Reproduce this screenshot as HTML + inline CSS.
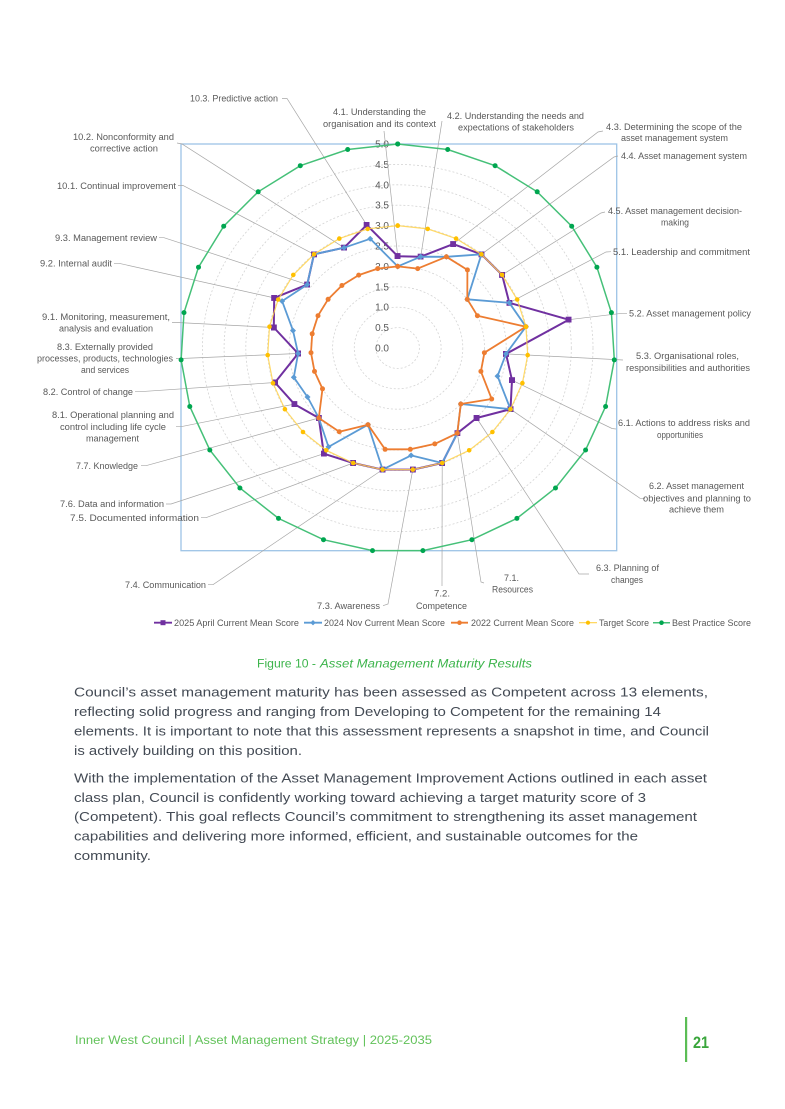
<!DOCTYPE html>
<html><head><meta charset="utf-8"><style>
html,body{margin:0;padding:0;background:#fff;}
svg{display:block;}
text{font-family:"Liberation Sans",Arial,sans-serif;}
</style></head><body>
<svg width="785" height="1109" viewBox="0 0 785 1109" xmlns="http://www.w3.org/2000/svg">
<defs>
<marker id="mp" markerWidth="6" markerHeight="6" refX="3" refY="3" markerUnits="userSpaceOnUse"><rect width="6" height="6" fill="#7030a0"/></marker>
<marker id="mb" markerWidth="6" markerHeight="6" refX="3" refY="3" markerUnits="userSpaceOnUse"><path d="M3,0 L6,3 L3,6 L0,3Z" fill="#5b9bd5"/></marker>
<marker id="mo" markerWidth="6" markerHeight="6" refX="3" refY="3" markerUnits="userSpaceOnUse"><circle cx="3" cy="3" r="2.5" fill="#ed7d31"/></marker>
<marker id="my" markerWidth="6" markerHeight="6" refX="3" refY="3" markerUnits="userSpaceOnUse"><circle cx="3" cy="3" r="2.3" fill="#ffc000"/></marker>
<marker id="mg" markerWidth="6" markerHeight="6" refX="3" refY="3" markerUnits="userSpaceOnUse"><circle cx="3" cy="3" r="2.5" fill="#00a650"/></marker>
</defs>
<rect width="785" height="1109" fill="#fff"/>

<!-- plot area border -->
<rect x="181" y="144" width="435.7" height="406.7" fill="none" stroke="#9dc3e6" stroke-width="1.3"/>

<!-- grid rings -->
<g fill="none" stroke="#d4d4d4" stroke-width="0.8" stroke-dasharray="2 2">
<ellipse cx="397.7" cy="348" rx="21.7" ry="20.4"/>
<ellipse cx="397.7" cy="348" rx="43.4" ry="40.8"/>
<ellipse cx="397.7" cy="348" rx="65.1" ry="61.2"/>
<ellipse cx="397.7" cy="348" rx="86.8" ry="81.6"/>
<ellipse cx="397.7" cy="348" rx="108.5" ry="102"/>
<ellipse cx="397.7" cy="348" rx="130.2" ry="122.4"/>
<ellipse cx="397.7" cy="348" rx="151.9" ry="142.8"/>
<ellipse cx="397.7" cy="348" rx="173.6" ry="163.2"/>
<ellipse cx="397.7" cy="348" rx="195.3" ry="183.6"/>
</g>

<!-- tick labels -->
<g font-size="10" fill="#595959" text-anchor="end">
<text x="389" y="351.5">0.0</text>
<text x="389" y="331.1">0.5</text>
<text x="389" y="310.7">1.0</text>
<text x="389" y="290.3">1.5</text>
<text x="389" y="269.9">2.0</text>
<text x="389" y="249.5">2.5</text>
<text x="389" y="229.1">3.0</text>
<text x="389" y="208.7">3.5</text>
<text x="389" y="188.3">4.0</text>
<text x="389" y="167.9">4.5</text>
<text x="389" y="147.5">5.0</text>
</g>

<!-- leader lines -->
<g fill="none" stroke="#a6a6a6" stroke-width="0.7">
<polyline points="282,98.5 287,98.5 366.7,224.9"/>
<polyline points="384,131 397.7,256.2"/>
<polyline points="442,121 420.7,256.7"/>
<polyline points="603,131 598,132 453.2,244.1"/>
<polyline points="618,156 614,157 481.4,254.3"/>
<polyline points="605,212 601,213 502.1,274.9"/>
<polyline points="611,251.7 606,252 509.3,302.8"/>
<polyline points="627,313.3 622,313.3 568.7,319.7"/>
<polyline points="623,360 506,353.9"/>
<polyline points="616,429 612,428.5 512,380.2"/>
<polyline points="645,498.3 640,498.3 510.5,409.2"/>
<polyline points="589,574 579,574 476.6,418"/>
<polyline points="484,583 481,582 457.3,433.2"/>
<polyline points="442,586 442.2,463"/>
<polyline points="383,605.7 388,604 412.8,469.6"/>
<polyline points="208,584.7 213,584.7 382.6,469.6"/>
<polyline points="201,517.7 206,517.7 353.2,463"/>
<polyline points="166,504 171,504 323.8,453.7"/>
<polyline points="141,465.7 146,465.7 318.8,418"/>
<polyline points="176,426.7 181,426.7 294.3,404.1"/>
<polyline points="135,391.7 140,391.7 275,382.5"/>
<polyline points="176,358.5 181,358.5 298.1,353.5"/>
<polyline points="172,322.5 177,322.5 273.8,327.5"/>
<polyline points="114,263.3 119,263.3 274.2,297.9"/>
<polyline points="159,237.7 164,237.7 307.2,284.6"/>
<polyline points="178,185.5 183,185.5 314,254.3"/>
<polyline points="177,143 182,144 344.1,247.7"/>
</g>

<!-- series -->
<polygon fill="none" stroke="#7030a0" stroke-width="2" stroke-linejoin="round" marker-start="url(#mp)" marker-mid="url(#mp)" marker-end="url(#mp)"
points="397.7,256.2 420.7,256.7 453.2,244.1 481.4,254.3 502.1,274.9 509.3,302.8 568.7,319.7 506.0,353.9 512.0,380.2 510.5,409.2 476.6,418.0 457.3,433.2 442.2,463.0 412.8,469.6 382.6,469.6 353.2,463.0 323.8,453.7 318.8,418.0 294.3,404.1 275.0,382.5 298.1,353.5 273.8,327.5 274.2,297.9 307.2,284.6 314.0,254.3 344.1,247.7 366.7,224.9"/>
<polygon fill="none" stroke="#5b9bd5" stroke-width="1.8" stroke-linejoin="round" marker-start="url(#mb)" marker-mid="url(#mb)" marker-end="url(#mb)"
points="397.7,266.4 420.7,256.7 446.4,256.8 481.4,254.3 467.3,299.3 509.3,302.8 525.9,326.7 506.0,353.9 497.5,376.1 510.5,409.2 460.8,404.0 457.3,433.2 442.2,463.0 411.1,455.4 382.6,469.6 368.0,424.7 328.5,446.9 318.8,418.0 307.5,397.0 293.8,377.3 298.1,353.5 293.0,330.6 282.1,301.1 307.2,284.6 314.0,254.3 344.1,247.7 370.2,238.8"/>
<polygon fill="none" stroke="#ed7d31" stroke-width="1.8" stroke-linejoin="round" marker-start="url(#mo)" marker-mid="url(#mo)" marker-end="url(#mo)"
points="397.7,266.4 417.7,268.6 446.4,256.8 467.4,269.9 467.3,299.3 477.4,315.7 525.9,326.7 484.4,352.7 480.9,371.4 491.7,399.0 460.8,404.0 457.3,433.2 434.8,443.9 410.3,449.3 385.1,449.3 368.0,424.7 339.3,431.7 318.8,418.0 322.5,388.8 314.5,371.4 311.0,352.7 312.2,333.8 318.0,315.7 328.1,299.3 341.9,285.5 358.7,275.1 377.7,268.6"/>
<polygon fill="none" stroke="#ffd24d" stroke-width="1.2" stroke-opacity="0.85" marker-start="url(#my)" marker-mid="url(#my)" marker-end="url(#my)"
points="397.7,225.6 427.7,228.9 456.1,238.6 481.4,254.3 502.1,274.9 517.2,299.5 525.9,326.7 527.7,355.1 522.4,383.1 510.5,409.2 492.4,432.0 469.2,450.3 442.2,463.0 412.8,469.6 382.6,469.6 353.2,463.0 326.2,450.3 303.0,432.0 284.9,409.2 273.0,383.1 267.7,355.1 269.5,326.7 278.2,299.5 293.3,274.9 314.0,254.3 339.3,238.6 367.7,228.9"/>
<polygon fill="none" stroke="#45c078" stroke-width="1.5" marker-start="url(#mg)" marker-mid="url(#mg)" marker-end="url(#mg)"
points="397.7,144.0 447.7,149.5 495.1,165.7 537.2,191.8 571.7,226.2 596.9,267.2 611.4,312.6 614.3,359.9 605.6,406.5 585.6,450.0 555.5,488.0 516.9,518.4 471.9,539.7 422.9,550.6 372.5,550.6 323.5,539.7 278.5,518.4 239.9,488.0 209.8,450.0 189.8,406.5 181.1,359.9 184.0,312.6 198.5,267.2 223.7,226.2 258.2,191.8 300.3,165.7 347.7,149.5"/>

<!-- category labels -->
<g font-size="9" fill="#595959" lengthAdjust="spacingAndGlyphs">
<text x="190" y="101.5" textLength="88" lengthAdjust="spacingAndGlyphs">10.3. Predictive action</text>
<text x="333" y="114.9" textLength="93" lengthAdjust="spacingAndGlyphs">4.1. Understanding the</text>
<text x="323" y="127.2" textLength="113" lengthAdjust="spacingAndGlyphs">organisation and its context</text>
<text x="447" y="118.9" textLength="137" lengthAdjust="spacingAndGlyphs">4.2. Understanding the needs and</text>
<text x="458" y="130.5" textLength="116" lengthAdjust="spacingAndGlyphs">expectations of stakeholders</text>
<text x="606" y="129.9" textLength="136" lengthAdjust="spacingAndGlyphs">4.3. Determining the scope of the</text>
<text x="621" y="140.9" textLength="107" lengthAdjust="spacingAndGlyphs">asset management system</text>
<text x="621" y="158.9" textLength="126" lengthAdjust="spacingAndGlyphs">4.4. Asset management system</text>
<text x="608" y="214.2" textLength="134" lengthAdjust="spacingAndGlyphs">4.5. Asset management decision-</text>
<text x="661" y="225.5" textLength="28" lengthAdjust="spacingAndGlyphs">making</text>
<text x="613" y="254.9" textLength="137" lengthAdjust="spacingAndGlyphs">5.1.  Leadership and commitment</text>
<text x="629" y="316.5" textLength="122" lengthAdjust="spacingAndGlyphs">5.2. Asset management policy</text>
<text x="636" y="359.2" textLength="103" lengthAdjust="spacingAndGlyphs">5.3.  Organisational roles,</text>
<text x="626" y="370.9" textLength="124" lengthAdjust="spacingAndGlyphs">responsibilities and authorities</text>
<text x="618" y="425.9" textLength="132" lengthAdjust="spacingAndGlyphs">6.1.  Actions to address risks and</text>
<text x="657" y="437.9" textLength="46" lengthAdjust="spacingAndGlyphs">opportunities</text>
<text x="649" y="489.2" textLength="95" lengthAdjust="spacingAndGlyphs">6.2. Asset management</text>
<text x="643" y="501.5" textLength="108" lengthAdjust="spacingAndGlyphs">objectives and planning to</text>
<text x="669" y="512.5" textLength="55" lengthAdjust="spacingAndGlyphs">achieve them</text>
<text x="596" y="570.9" textLength="63" lengthAdjust="spacingAndGlyphs">6.3. Planning of</text>
<text x="611" y="583.2" textLength="32" lengthAdjust="spacingAndGlyphs">changes</text>
<text x="504" y="580.9" textLength="15" lengthAdjust="spacingAndGlyphs">7.1.</text>
<text x="492" y="592.5" textLength="41" lengthAdjust="spacingAndGlyphs">Resources</text>
<text x="434" y="596.5" textLength="16" lengthAdjust="spacingAndGlyphs">7.2.</text>
<text x="416" y="609.2" textLength="51" lengthAdjust="spacingAndGlyphs">Competence</text>
<text x="317" y="608.9" textLength="63" lengthAdjust="spacingAndGlyphs">7.3.  Awareness</text>
<text x="125" y="587.9" textLength="81" lengthAdjust="spacingAndGlyphs">7.4. Communication</text>
<text x="70" y="520.9" textLength="129" lengthAdjust="spacingAndGlyphs">7.5. Documented information</text>
<text x="60" y="507.2" textLength="104" lengthAdjust="spacingAndGlyphs">7.6. Data and information</text>
<text x="76" y="468.9" textLength="62" lengthAdjust="spacingAndGlyphs">7.7. Knowledge</text>
<text x="52" y="417.9" textLength="122" lengthAdjust="spacingAndGlyphs">8.1.  Operational planning and</text>
<text x="60" y="429.9" textLength="106" lengthAdjust="spacingAndGlyphs">control including life cycle</text>
<text x="86" y="441.5" textLength="53" lengthAdjust="spacingAndGlyphs">management</text>
<text x="43" y="394.9" textLength="90" lengthAdjust="spacingAndGlyphs">8.2. Control of change</text>
<text x="57" y="350.2" textLength="96" lengthAdjust="spacingAndGlyphs">8.3. Externally provided</text>
<text x="37" y="361.7" textLength="136" lengthAdjust="spacingAndGlyphs">processes, products, technologies</text>
<text x="81" y="373.2" textLength="48" lengthAdjust="spacingAndGlyphs">and services</text>
<text x="42" y="319.9" textLength="128" lengthAdjust="spacingAndGlyphs">9.1.  Monitoring, measurement,</text>
<text x="59" y="331.5" textLength="94" lengthAdjust="spacingAndGlyphs">analysis and evaluation</text>
<text x="40" y="266.5" textLength="72" lengthAdjust="spacingAndGlyphs">9.2. Internal audit</text>
<text x="55" y="240.9" textLength="102" lengthAdjust="spacingAndGlyphs">9.3. Management review</text>
<text x="57" y="188.9" textLength="119" lengthAdjust="spacingAndGlyphs">10.1. Continual improvement</text>
<text x="73" y="139.9" textLength="101" lengthAdjust="spacingAndGlyphs">10.2. Nonconformity and</text>
<text x="90" y="151.5" textLength="68" lengthAdjust="spacingAndGlyphs">corrective action</text>
</g>

<!-- legend -->
<g stroke-width="1.8">
<line x1="154" y1="622.7" x2="172" y2="622.7" stroke="#7030a0"/>
<rect x="160.5" y="620.2" width="5" height="5" fill="#7030a0" stroke="none"/>
<line x1="304" y1="622.7" x2="322" y2="622.7" stroke="#5b9bd5"/>
<path d="M313,620 L315.7,622.7 L313,625.4 L310.3,622.7Z" fill="#5b9bd5" stroke="none"/>
<line x1="451" y1="622.7" x2="468" y2="622.7" stroke="#ed7d31"/>
<circle cx="459.5" cy="622.7" r="2.3" fill="#ed7d31" stroke="none"/>
<line x1="579" y1="622.7" x2="597" y2="622.7" stroke="#ffd24d" stroke-width="1.2"/>
<circle cx="588" cy="622.7" r="2.1" fill="#ffc000" stroke="none"/>
<line x1="653" y1="622.7" x2="670" y2="622.7" stroke="#45c078" stroke-width="1.5"/>
<circle cx="661.5" cy="622.7" r="2.3" fill="#00a650" stroke="none"/>
</g>
<g font-size="9" fill="#595959">
<text x="174" y="625.9" textLength="125" lengthAdjust="spacingAndGlyphs">2025 April Current Mean Score</text>
<text x="324" y="625.9" textLength="121" lengthAdjust="spacingAndGlyphs">2024 Nov Current Mean Score</text>
<text x="471" y="625.9" textLength="103" lengthAdjust="spacingAndGlyphs">2022 Current Mean Score</text>
<text x="599" y="625.9" textLength="50" lengthAdjust="spacingAndGlyphs">Target Score</text>
<text x="672" y="625.9" textLength="79" lengthAdjust="spacingAndGlyphs">Best Practice Score</text>
</g>

<!-- caption -->
<text x="257" y="667.3" font-size="11.5" fill="#3cb44b" textLength="59" lengthAdjust="spacingAndGlyphs">Figure 10 -</text>
<text x="320" y="667.3" font-size="11.5" font-style="italic" fill="#3cb44b" textLength="212" lengthAdjust="spacingAndGlyphs">Asset Management Maturity Results</text>

<!-- paragraphs -->
<g font-size="13" fill="#434a54">
<text x="74" y="696.6" textLength="634" lengthAdjust="spacingAndGlyphs">Council’s asset management maturity has been assessed as Competent across 13 elements,</text>
<text x="74" y="716.1" textLength="587" lengthAdjust="spacingAndGlyphs">reflecting solid progress and ranging from Developing to Competent for the remaining 14</text>
<text x="74" y="735.6" textLength="635" lengthAdjust="spacingAndGlyphs">elements. It is important to note that this assessment represents a snapshot in time, and Council</text>
<text x="74" y="754.9" textLength="228" lengthAdjust="spacingAndGlyphs">is actively building on this position.</text>
<text x="74" y="782.6" textLength="633" lengthAdjust="spacingAndGlyphs">With the implementation of the Asset Management Improvement Actions outlined in each asset</text>
<text x="74" y="801.9" textLength="572" lengthAdjust="spacingAndGlyphs">class plan, Council is confidently working toward achieving a target maturity score of 3</text>
<text x="74" y="821.2" textLength="623" lengthAdjust="spacingAndGlyphs">(Competent). This goal reflects Council’s commitment to strengthening its asset management</text>
<text x="74" y="840.6" textLength="564" lengthAdjust="spacingAndGlyphs">capabilities and delivering more informed, efficient, and sustainable outcomes for the</text>
<text x="74" y="859.9" textLength="77" lengthAdjust="spacingAndGlyphs">community.</text>
</g>

<!-- footer -->
<text x="75" y="1044" font-size="11.5" fill="#62c25a" textLength="357" lengthAdjust="spacingAndGlyphs">Inner West Council | Asset Management Strategy | 2025-2035</text>
<rect x="685" y="1017" width="2.2" height="45" fill="#5bbd55"/>
<text x="693" y="1048" font-size="17" font-weight="bold" fill="#3aa63c" textLength="16" lengthAdjust="spacingAndGlyphs">21</text>
</svg>
</body></html>
